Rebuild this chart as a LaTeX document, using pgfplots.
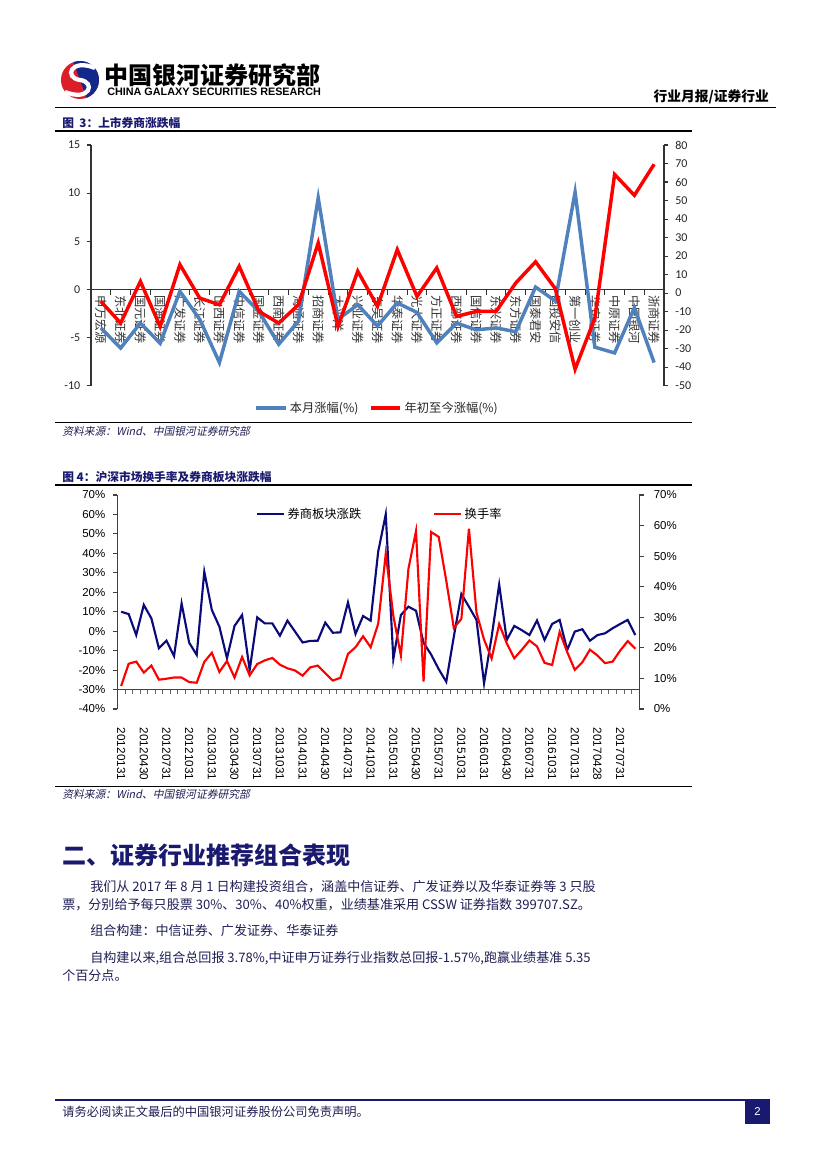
\documentclass[border=0pt]{standalone}
\usepackage{pgfplots}
\pgfplotsset{compat=1.18}
\usepackage{fontspec}
\setmainfont{Liberation Sans}
\newfontfamily\cjk{Noto Sans CJK SC}
\newfontfamily\cjkit{Noto Sans CJK SC}[FakeSlant=0.2]
\newfontfamily\carlito{Carlito}
\definecolor{xlblue}{RGB}{79,129,189}
\definecolor{navyline}{RGB}{10,10,120}
\definecolor{hdnavy}{RGB}{25,25,112}
\definecolor{txtnavy}{RGB}{30,30,85}
\definecolor{logored}{RGB}{220,30,40}
\definecolor{logoblue}{RGB}{20,40,140}

% chart 1: listed brokers, monthly change (left) and YTD change (right)
\pgfplotstableread{
n month ytd
1  -4.0  -4.5
2  -6.1  -16.2
3  -3.5   6.3
4  -5.6  -18.0
5  -0.2   15.4
6  -3.1   -2.7
7  -7.6   -6.3
8  -0.2   14.5
9  -2.3   -9.9
10 -5.7  -16.2
11 -3.3   -6.3
12  9.5   27.1
13 -3.1  -18.0
14 -1.6   11.8
15 -3.8   -7.2
16 -1.4   23.5
17 -2.4   -1.8
18 -5.55  13.6
19 -3.5  -12.6
20 -4.2   -9.9
21 -4.0   -9.9
22 -4.4    5.5
23  0.24  16.9
24 -1.2    2.4
25 10.1  -41.1
26 -6.0  -13.5
27 -6.6   64.1
28 -1.9   52.8
29 -7.6   69.6
}\brokers

% chart 2: broker index change (left) and turnover (right), monthly 2012-01 .. 2017-09
\pgfplotstableread{
i sector turn
0  10.0  7.5
1  8.8   14.8
2  -2.0  15.5
3  13.5  11.9
4  6.6   14.2
5  -8.8  9.6
6  -4.9  9.9
7  -12.8 10.3
8  14.3  10.3
9  -5.9  8.8
10 -12.2 8.6
11 30.6  15.4
12 10.9  18.4
13 2.3   12.1
14 -13.9 15.7
15 2.7   10.3
16 8.3   17.0
17 -20.0 11.0
18 7.1   14.7
19 4.0   15.9
20 4.0   16.7
21 -2.3  14.5
22 5.4   13.3
23 -0.2  12.6
24 -5.8  10.9
25 -5.0  13.6
26 -4.9  14.2
27 4.4   11.7
28 -0.8  9.3
29 -0.6  10.2
30 14.8  18.0
31 -1.4  20.2
32 7.8   23.8
33 5.4   20.2
34 40.9  27.9
35 60.1  50.8
36 -14.3 30.5
37 8.3   17.5
38 12.6  45.9
39 10.5  58.2
40 -6.0  9.0
41 -12.0 57.9
42 -19.5 56.3
43 -26.0 42.0
44 -2.8  26.5
45 19.1  29.5
46 12.6  59.0
47 5.8   31.5
48 -26.8 22.7
49 -3.0  16.5
50 24.0  27.8
51 -4.5  21.5
52 2.7   16.6
53 0.5   19.4
54 -2.0  22.4
55 5.5   20.5
56 -4.5  15.1
57 3.7   14.4
58 5.8   25.2
59 -9.7  18.6
60 -0.2  12.8
61 1.0   15.3
62 -4.9  19.4
63 -2.0  17.5
64 -1.1  15.0
65 1.5   15.5
66 3.7   19.1
67 5.8   22.2
68 -2.0  19.7
}\turnover

\begin{document}
\begin{tikzpicture}
\useasboundingbox (0,0) rectangle (620.25pt,-876.75pt);
\fill[white] (0,0) rectangle (620.25pt,-876.75pt);

\begin{scope}[x=0.75pt,y=-0.75pt]
  % logo
  \fill[logored] (80,80) circle[radius=19];
  \fill[logoblue] (80,80) ++(70:19) arc[start angle=70, end angle=-110, radius=19] -- cycle;
  \draw[white, line width=3.2pt] (95,68) .. controls (70,58) and (64,78) .. (80,80)
        .. controls (96,82) and (90,102) .. (65,92);
  \node[anchor=west, inner sep=0] at (104,75) {\cjk\bfseries\fontsize{18}{18}\selectfont 中国银河证券研究部};
  \node[anchor=west, inner sep=0] at (107,92) {\bfseries\fontsize{8.1}{8.1}\selectfont CHINA GALAXY SECURITIES RESEARCH};
  \node[anchor=east, inner sep=0] at (769,97) {\cjk\bfseries\fontsize{10.3}{10.3}\selectfont 行业月报/证券行业};
  \draw[line width=1.1pt] (55,107.5) -- (776,107.5);

  % figure 3 frame
  \node[anchor=west, inner sep=0, text=hdnavy] at (62,123) {\cjk\bfseries\fontsize{8.8}{8.8}\selectfont 图\ \ 3：上市券商涨跌幅};
  \draw[line width=0.9pt] (55,131) -- (692,131);
  \draw[line width=0.6pt] (55,422.5) -- (692,422.5);
  \node[anchor=west, inner sep=0, text=txtnavy] at (62,431) {\cjkit\fontsize{8.1}{8.1}\selectfont 资料来源：Wind、中国银河证券研究部};

  % figure 4 frame
  \node[anchor=west, inner sep=0, text=hdnavy] at (62,477) {\cjk\bfseries\fontsize{8.8}{8.8}\selectfont 图 4：沪深市场换手率及券商板块涨跌幅};
  \draw[line width=0.9pt] (55,485) -- (692,485);
  \draw[line width=0.9pt] (55,786.5) -- (692,786.5);
  \node[anchor=west, inner sep=0, text=txtnavy] at (62,794) {\cjkit\fontsize{8.1}{8.1}\selectfont 资料来源：Wind、中国银河证券研究部};

  % section text
  \node[anchor=west, inner sep=0, text=hdnavy] at (62,855) {\cjk\bfseries\fontsize{18}{18}\selectfont 二、证券行业推荐组合表现};
  \begin{scope}[every node/.style={anchor=west, inner sep=0, text=txtnavy, font=\cjk\fontsize{9.8}{9.8}\selectfont}]
    \node at (90,887) {我们从 2017 年 8 月 1 日构建投资组合，涵盖中信证券、广发证券以及华泰证券等 3 只股};
    \node at (62,905) {票，分别给予每只股票 30\%、30\%、40\%权重，业绩基准采用 CSSW 证券指数 399707.SZ。};
    \node at (90,931) {组合构建：中信证券、广发证券、华泰证券};
    \node at (90,958) {自构建以来,组合总回报 3.78\%,中证申万证券行业指数总回报-1.57\%,跑赢业绩基准 5.35};
    \node at (62,976) {个百分点。};
  \end{scope}

  % footer
  \draw[hdnavy, line width=1.4pt] (55,1100) -- (770,1100);
  \node[anchor=west, inner sep=0, text=txtnavy] at (62,1112) {\cjk\fontsize{9.2}{9.2}\selectfont 请务必阅读正文最后的中国银河证券股份公司免责声明。};
  \fill[hdnavy] (745,1100) rectangle (770,1124);
  \node[text=white, inner sep=0] at (757.5,1112) {\fontsize{8.5}{8.5}\selectfont 2};
\end{scope}

% ---------- figure 3 ----------
\begin{axis}[
    at={(68.25pt,-108.75pt)}, anchor=north west,
    scale only axis, width=429.75pt, height=180.5pt,
    xmin=0.5, xmax=29.5, ymin=-10, ymax=15,
    axis x line*=middle, axis y line*=left,
    axis line style={black!80, line width=0.8pt},
    ytick={-10,-5,...,15},
    xtick={1,...,29},
    xticklabels={申万宏源,东北证券,国元证券,国海证券,广发证券,长江证券,山西证券,中信证券,国金证券,西南证券,海通证券,招商证券,太平洋,兴业证券,东吴证券,华泰证券,光大证券,方正证券,西部证券,国信证券,东兴证券,东方证券,国泰君安,国投安信,第一创业,华安证券,中原证券,中国银河,浙商证券},
    xticklabel style={rotate=-90, anchor=west, font=\cjk\fontsize{9.2}{9.2}\selectfont, text=black!80, inner sep=1pt},
    major x tick style={draw=none},
    minor xtick={0.5,1.5,...,29.5},
    minor x tick style={black!80, line width=0.7pt},
    minor tick length=4pt,
    xtick align=outside,
    ytick align=outside, major tick length=3pt,
    y tick style={black!80, line width=0.8pt},
    yticklabel style={font=\carlito\fontsize{9}{9}\selectfont, text=black!85, xshift=-1.5pt},
    /pgf/number format/assume math mode=true,
]
\addplot[xlblue, line width=2.6pt] table[x=n, y=month] {\brokers};
\end{axis}

\begin{axis}[
    at={(68.25pt,-108.75pt)}, anchor=north west,
    scale only axis, width=429.75pt, height=180.5pt,
    xmin=0.5, xmax=29.5, ymin=-50, ymax=80,
    axis x line=none, axis y line*=right,
    axis line style={black!80, line width=0.8pt},
    ytick={-50,-40,...,80},
    ytick align=outside, major tick length=3pt,
    y tick style={black!80, line width=0.8pt},
    yticklabel style={font=\carlito\fontsize{9}{9}\selectfont, text=black!85, xshift=2pt},
    /pgf/number format/assume math mode=true,
    legend columns=2,
    legend style={at={(0.5,0)}, anchor=north, yshift=-8pt, draw=none, fill=none,
        font=\cjk\fontsize{9.2}{9.2}\selectfont, text=black!85,
        /tikz/every even column/.append style={column sep=6pt}},
    legend image code/.code={\draw[#1] (0pt,0pt) -- (22pt,0pt);},
]
\addlegendimage{xlblue, line width=2.6pt}
\addlegendentry{本月涨幅(\%)}
\addplot[red, line width=2.6pt] table[x=n, y=ytd] {\brokers};
\addlegendentry{年初至今涨幅(\%)}
\end{axis}

% ---------- figure 4 ----------
% x axis line drawn at -30% of the left scale
\begin{axis}[
    at={(88pt,-371.25pt)}, anchor=north west,
    scale only axis, width=391.3pt, height=145.9pt,
    xmin=-0.5, xmax=68.5, ymin=0, ymax=1,
    axis x line*=bottom, axis y line=none,
    axis line style={black!75, line width=0.8pt},
    xtick={-0.5,0.5,...,68.5}, xticklabels={},
    xtick align=outside, major tick length=3pt,
    x tick style={black!60, line width=0.5pt},
]
\addplot[draw=none] coordinates {(0,0.5)};
\end{axis}

\begin{axis}[
    at={(88pt,-371.25pt)}, anchor=north west,
    scale only axis, width=391.3pt, height=160.5pt,
    xmin=-0.5, xmax=68.5, ymin=-40, ymax=70,
    axis x line*=bottom, axis y line*=left,
    x axis line style={draw=none},
    y axis line style={black!75, line width=0.8pt},
    major x tick style={draw=none},
    xtick={0,3,...,66},
    xticklabels={20120131,20120430,20120731,20121031,20130131,20130430,20130731,20131031,20140131,20140430,20140731,20141031,20150131,20150430,20150731,20151031,20160131,20160430,20160731,20161031,20170131,20170428,20170731},
    xticklabel style={rotate=-90, anchor=west, font=\fontsize{8.8}{8.8}\selectfont, inner sep=0pt},
    xticklabel shift=14pt,
    ytick={-40,-30,...,70},
    yticklabel={\pgfmathprintnumber{\tick}\%},
    yticklabel style={font=\fontsize{8.6}{8.6}\selectfont, xshift=-2pt},
    ytick align=outside, major tick length=3.5pt,
    y tick style={black!75, line width=0.8pt},
    /pgf/number format/assume math mode=true,
]
\addplot[navyline, line width=1.6pt] table[x=i, y=sector] {\turnover};
\end{axis}

\begin{axis}[
    at={(88pt,-371.25pt)}, anchor=north west,
    scale only axis, width=391.3pt, height=160.5pt,
    xmin=-0.5, xmax=68.5, ymin=0, ymax=70,
    axis x line=none, axis y line*=right,
    y axis line style={black!75, line width=0.8pt},
    ytick={0,10,...,70},
    yticklabel={\pgfmathprintnumber{\tick}\%},
    yticklabel style={font=\fontsize{8.6}{8.6}\selectfont, xshift=4pt},
    ytick align=outside, major tick length=3.5pt,
    y tick style={black!75, line width=0.8pt},
    /pgf/number format/assume math mode=true,
    legend columns=2,
    legend style={at={(0.258,0.911)}, anchor=west, draw=none, fill=none,
        font=\cjk\fontsize{9.2}{9.2}\selectfont,
        /tikz/every even column/.append style={column sep=52pt}},
    legend image code/.code={\draw[#1] (0pt,0pt) -- (20pt,0pt);},
]
\addlegendimage{navyline, line width=1.6pt}
\addlegendentry{券商板块涨跌}
\addplot[red, line width=1.6pt] table[x=i, y=turn] {\turnover};
\addlegendentry{换手率}
\end{axis}
\end{tikzpicture}
\end{document}
